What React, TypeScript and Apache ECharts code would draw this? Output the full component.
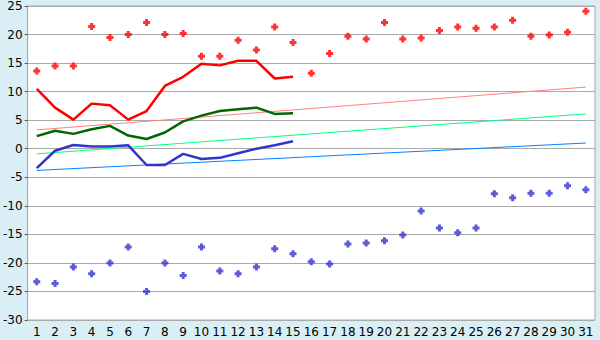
import React, { useEffect, useRef } from "react";
import * as echarts from "echarts";

const days = Array.from({ length: 31 }, (_, i) => String(i + 1));

const maxPoints = [13.6, 14.5, 14.5, 21.4, 19.5, 20.0, 22.1, 20.0, 20.2, 16.2, 16.2, 19.0, 17.3, 21.3, 18.6, 13.2, 16.7, 19.7, 19.2, 22.1, 19.2, 19.4, 20.7, 21.3, 21.1, 21.3, 22.5, 19.7, 19.9, 20.4, 24.1];
const minPoints = [-23.3, -23.6, -20.7, -21.9, -20.0, -17.2, -25.0, -20.0, -22.2, -17.2, -21.4, -21.9, -20.7, -17.5, -18.4, -19.8, -20.2, -16.7, -16.5, -16.1, -15.1, -10.9, -13.9, -14.7, -13.9, -7.9, -8.6, -7.8, -7.8, -6.5, -7.2];
const maxLine = [10.5, 7.2, 5.1, 7.9, 7.6, 5.1, 6.6, 11.0, 12.6, 14.9, 14.6, 15.4, 15.4, 12.3, 12.6];
const meanLine = [2.2, 3.15, 2.6, 3.4, 4.0, 2.3, 1.7, 2.85, 4.8, 5.8, 6.6, 6.9, 7.2, 6.1, 6.2];
const minLine = [-3.4, -0.35, 0.65, 0.4, 0.4, 0.6, -2.85, -2.85, -0.9, -1.8, -1.6, -0.8, 0.0, 0.6, 1.3];
const maxTrend = [3.3, 10.8];
const meanTrend = [-0.9, 6.1];
const minTrend = [-3.8, 1.0];

const plusSymbol =
  "path://M2,0 L5,0 L5,2 L7,2 L7,5 L5,5 L5,7 L2,7 L2,5 L0,5 L0,2 L2,2 Z";

export default function App() {
  const ref = useRef<HTMLDivElement>(null);
  useEffect(() => {
    if (!ref.current) return;
    const chart = echarts.init(ref.current, null, { renderer: "svg" });
    const trend = (vals: number[], color: string, name: string) => ({
      name,
      type: "line",
      data: [[days[0], vals[0]], [days[days.length - 1], vals[1]]],
      symbol: "none",
      lineStyle: { color, width: 1 },
      z: 2,
    });
    chart.setOption({
      animation: false,
      backgroundColor: "#d9eef5",
      textStyle: { fontFamily: "DejaVu Sans" },
      grid: {
        left: 26,
        right: 5,
        top: 5,
        bottom: 20,
        show: true,
        backgroundColor: "#ffffff",
        borderColor: "#aaaaaa",
        borderWidth: 1,
      },
      xAxis: {
        type: "category",
        data: days,
        boundaryGap: true,
        axisLine: { lineStyle: { color: "#aaaaaa", width: 1 } },
        axisTick: { alignWithLabel: true, length: 5, lineStyle: { color: "#000000" } },
        axisLabel: { color: "#000", fontSize: 12, margin: 6, interval: 0 },
        splitLine: { show: false },
      },
      yAxis: {
        type: "value",
        min: -30,
        max: 25,
        interval: 5,
        axisLine: { show: true, lineStyle: { color: "#aaaaaa" } },
        axisTick: { show: true, length: 3, lineStyle: { color: "#555555" } },
        axisLabel: { color: "#000", fontSize: 12, margin: 5 },
        splitLine: { lineStyle: { color: "#aaaaaa", width: 1 } },
      },
      series: [
        trend(maxTrend, "#ff8080", "maxTrend"),
        trend(meanTrend, "#00ff80", "meanTrend"),
        trend(minTrend, "#0080ff", "minTrend"),
        {
          name: "max",
          type: "line",
          data: maxLine,
          symbol: "none",
          lineStyle: { color: "#ff0000", width: 2.5 },
          z: 3,
        },
        {
          name: "mean",
          type: "line",
          data: meanLine,
          symbol: "none",
          lineStyle: { color: "#006600", width: 2.5 },
          z: 3,
        },
        {
          name: "min",
          type: "line",
          data: minLine,
          symbol: "none",
          lineStyle: { color: "#3333cc", width: 2.5 },
          z: 3,
        },
        {
          name: "maxPts",
          type: "scatter",
          data: maxPoints,
          symbol: plusSymbol,
          symbolSize: 7,
          itemStyle: { color: "#ff0000" },
          z: 4,
        },
        {
          name: "minPts",
          type: "scatter",
          data: minPoints,
          symbol: plusSymbol,
          symbolSize: 7,
          itemStyle: { color: "#3333cc" },
          z: 4,
        },
      ],
    });
    return () => chart.dispose();
  }, []);
  return (
    <div
      ref={ref}
      style={{ position: "fixed", left: 0, top: 0, width: 600, height: 340 }}
    />
  );
}
